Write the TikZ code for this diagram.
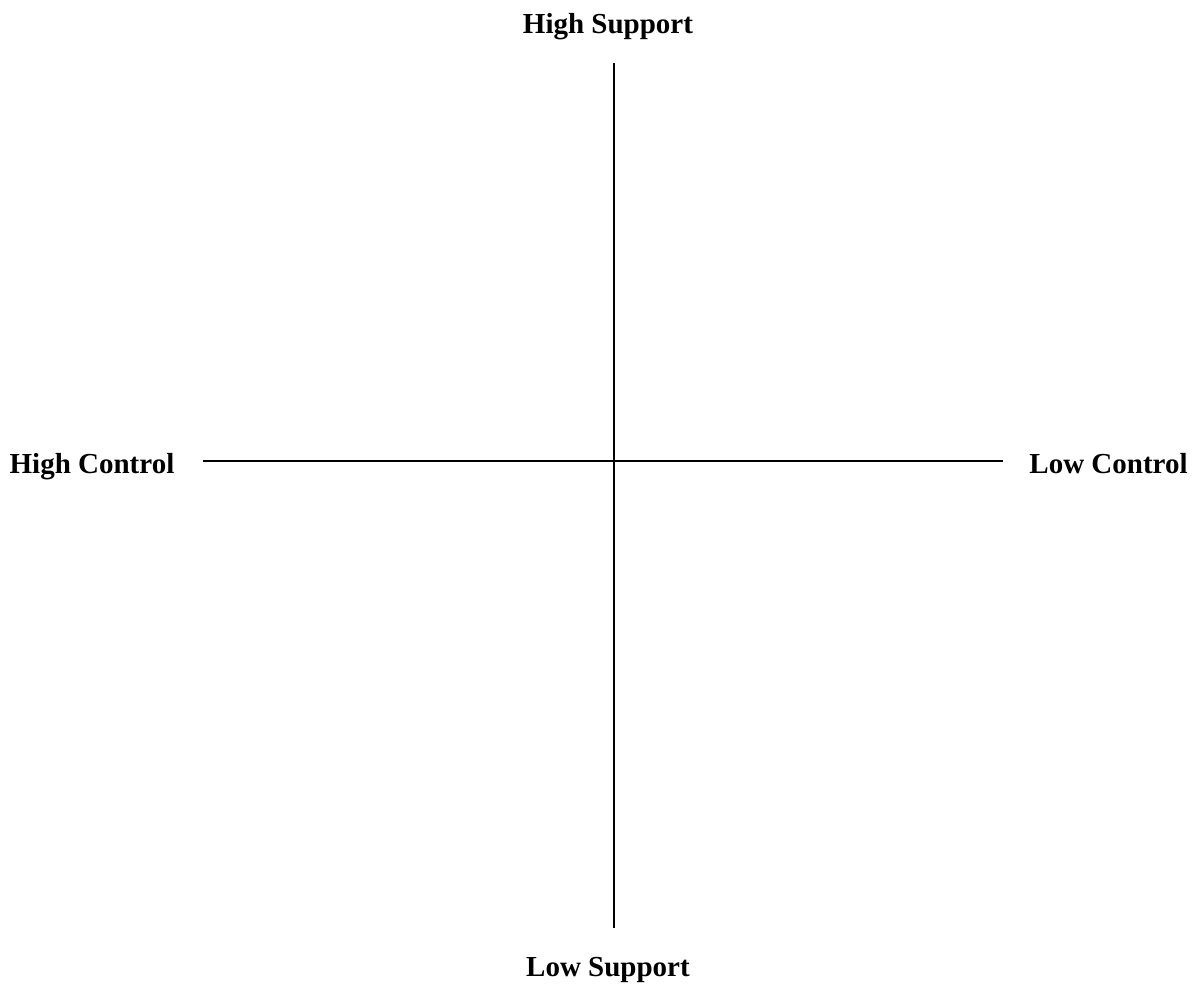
\documentclass[tikz,border=0pt]{standalone}
\usepackage{fontspec}
\setmainfont{Liberation Serif}
\begin{document}
\begin{tikzpicture}[x=1pt,y=-1pt,
  axislabel/.style={font=\fontsize{29}{33}\selectfont\bfseries, inner sep=0pt, anchor=base},
  axisline/.style={line width=2.8pt, black}]
\useasboundingbox (0,0) rectangle (1199,986);
\node[axislabel] (hs) at (608,33) {High Support};
\node[axislabel] (ls) at (608,976) {Low Support};
\node[axislabel] (hc) at (92,473) {High Control};
\node[axislabel] (lc) at (1108.5,473) {Low Control};
\coordinate (top) at (614,63);
\coordinate (bot) at (614,928);
\coordinate (left) at (203,461);
\coordinate (right) at (1003,461);
\draw[axisline] (top) -- (bot);
\draw[axisline] (left) -- (right);
\end{tikzpicture}
\end{document}
